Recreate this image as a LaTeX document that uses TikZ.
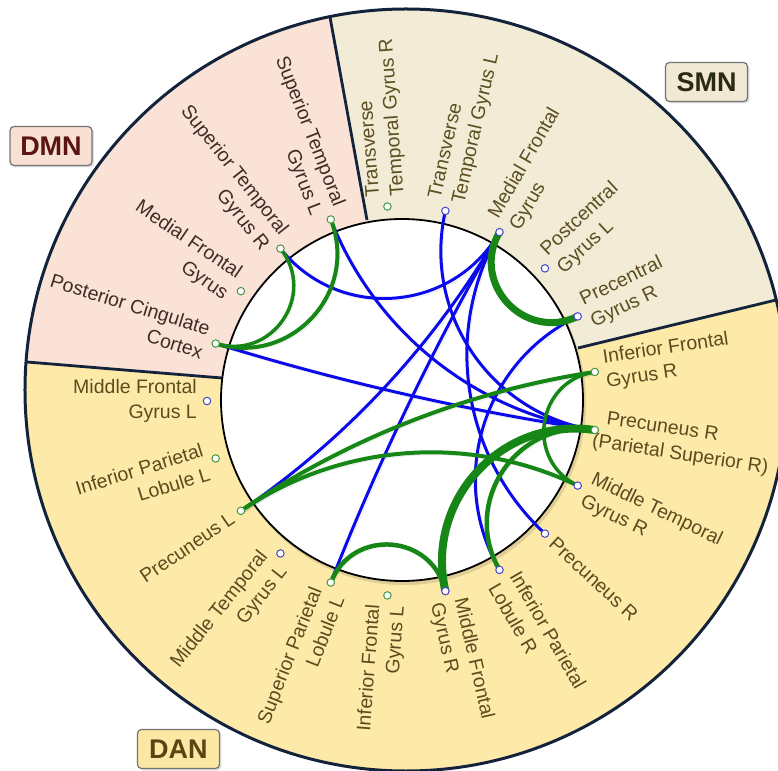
\documentclass[tikz,border=0pt]{standalone}
\usepackage{fontspec}
\setmainfont{Liberation Sans}
\usetikzlibrary{shadows}
\pgfdeclarelayer{ringlayer}
\pgfdeclarelayer{linklayer}
\pgfsetlayers{ringlayer,linklayer,main}
\definecolor{dmnfill}{RGB}{251,226,214}
\definecolor{smnfill}{RGB}{242,235,214}
\definecolor{danfill}{RGB}{253,234,169}
\definecolor{ringline}{RGB}{20,35,60}
\definecolor{dmntext}{RGB}{64,44,38}
\definecolor{smntext}{RGB}{92,78,32}
\definecolor{dantext}{RGB}{92,75,30}
\definecolor{linkblue}{RGB}{10,10,235}
\definecolor{linkgreen}{RGB}{22,135,22}
\definecolor{mkgreen}{RGB}{70,150,70}
\definecolor{mkblue}{RGB}{70,70,200}
\definecolor{dmnleg}{RGB}{248,224,213}
\definecolor{smnleg}{RGB}{241,233,212}
\definecolor{danleg}{RGB}{252,232,165}
\definecolor{dmnlegtext}{RGB}{92,20,16}
\definecolor{smnlegtext}{RGB}{42,42,18}
\definecolor{danlegtext}{RGB}{90,68,18}
\begin{document}
\begin{tikzpicture}[x=1pt,y=1pt,
  lab/.style={font=\fontsize{19.5}{24.5}\selectfont, inner sep=0pt, text=dantext},
  rlab/.style={lab, anchor=west, align=left},
  llab/.style={lab, anchor=east, align=right},
  mk/.style={circle, line width=1pt, fill=white, inner sep=0pt, minimum size=7.5pt},
  mkg/.style={mk, draw=mkgreen},
  mkb/.style={mk, draw=mkblue},
  lshadow/.style={preaction={draw=black, opacity=0.13, transform canvas={shift={(2pt,-2.5pt)}}}},
  bl/.style={draw=linkblue, line width=3pt, line cap=round, lshadow},
  gl/.style={draw=linkgreen, line cap=round, lshadow},
  legend/.style={draw=black!55, line width=1.2pt, rounded corners=4pt,
    minimum width=82pt, minimum height=39pt, inner sep=0pt,
    font=\fontsize{27}{30}\selectfont\bfseries,
    drop shadow={shadow xshift=2pt, shadow yshift=-2pt, opacity=0.25}}
]
\useasboundingbox (-402,-369) rectangle (376,401);

\begin{pgfonlayer}{ringlayer}
\clip (-402,-369) rectangle (376,401);
\fill[danfill] (4,11) circle[radius=381];
\begin{scope}
\clip (4,11) circle[radius=381];
\fill[dmnfill] (0,0) -- (-180,23) -- (-520,51) -- (-520,520) -- (-97,520) -- (-35,181) -- cycle;
\fill[smnfill] (0,0) -- (-35,181) -- (-97,520) -- (520,520) -- (520,136) -- (176,53) -- cycle;
\end{scope}
\draw[ringline, line width=2.8pt] (-35,181) -- (-72,384);
\draw[ringline, line width=2.8pt] (176,53) -- (374,101);
\draw[ringline, line width=2.8pt] (-180,23) -- (-375,39);
\draw[ringline, line width=3pt] (4,11) circle[radius=381];
\fill[black, opacity=0.12] (2,-2) circle[radius=182];
\draw[black, line width=1.8pt, fill=white] (0,1) circle[radius=181];
\end{pgfonlayer}

% markers
\node[mkb] (n0) at (180:195) {};
\node[mkg] (n1) at (162.857:195) {};
\node[mkg] (n2) at (145.714:195) {};
\node[mkg] (n3) at (128.571:195) {};
\node[mkg] (n4) at (111.429:195) {};
\node[mkg] (n5) at (94.286:195) {};
\node[mkb] (n6) at (77.143:195) {};
\node[mkb] (n7) at (60:195) {};
\node[mkb] (n8) at (42.857:195) {};
\node[mkb] (n9) at (25.714:195) {};
\node[mkg] (n10) at (8.571:195) {};
\node[mkg] (n11) at (-8.571:195) {};
\node[mkb] (n12) at (-25.714:195) {};
\node[mkb] (n13) at (-42.857:195) {};
\node[mkb] (n14) at (-60:195) {};
\node[mkb] (n15) at (-77.143:195) {};
\node[mkg] (n16) at (-94.286:195) {};
\node[mkg] (n17) at (-111.429:195) {};
\node[mkb] (n18) at (-128.571:195) {};
\node[mkg] (n19) at (-145.714:195) {};
\node[mkg] (n20) at (-162.857:195) {};

% labels
\node[llab, rotate=0] (l0) at (180:205) {Middle Frontal\\Gyrus L};
\node[llab, rotate=342.857, text=dmntext] (l1) at (162.857:205) {Posterior Cingulate\\Cortex};
\node[llab, rotate=325.714, text=dmntext] (l2) at (145.714:205) {Medial Frontal\\Gyrus};
\node[llab, rotate=308.571, text=dmntext] (l3) at (128.571:205) {Superior Temporal\\Gyrus R};
\node[llab, rotate=291.429, text=dmntext] (l4) at (111.429:205) {Superior Temporal\\Gyrus L};
\node[rlab, rotate=94.286, text=smntext] (l5) at (94.286:205) {Transverse\\Temporal Gyrus R};
\node[rlab, rotate=77.143, text=smntext] (l6) at (77.143:205) {Transverse\\Temporal Gyrus L};
\node[rlab, rotate=60, text=smntext] (l7) at (60:205) {Medial Frontal\\Gyrus};
\node[rlab, rotate=42.857, text=smntext] (l8) at (42.857:205) {Postcentral\\Gyrus L};
\node[rlab, rotate=25.714, text=smntext] (l9) at (25.714:205) {Precentral\\Gyrus R};
\node[rlab, rotate=8.571] (l10) at (8.571:205) {Inferior Frontal\\Gyrus R};
\node[rlab, rotate=-8.571] (l11) at (-8.571:205) {Precuneus R\\\hspace*{-11pt}(Parietal Superior R)};
\node[rlab, rotate=-25.714] (l12) at (-25.714:205) {Middle Temporal\\Gyrus R};
\node[rlab, rotate=-42.857] (l13) at (-42.857:205) {Precuneus R};
\node[rlab, rotate=-60] (l14) at (-60:205) {Inferior Parietal\\Lobule R};
\node[rlab, rotate=-77.143] (l15) at (-77.143:205) {Middle Frontal\\Gyrus R};
\node[llab, rotate=85.714] (l16) at (-94.286:205) {Inferior Frontal\\Gyrus L};
\node[llab, rotate=68.571] (l17) at (-111.429:205) {Superior Parietal\\Lobule L};
\node[llab, rotate=51.429] (l18) at (-128.571:205) {Middle Temporal\\Gyrus L};
\node[llab, rotate=34.286] (l19) at (-145.714:205) {Precuneus L};
\node[llab, rotate=17.143] (l20) at (-162.857:205) {Inferior Parietal\\Lobule L};

% legend boxes
\node[legend, fill=dmnleg, text=dmnlegtext] (dmn) at (-351,255) {DMN};
\node[legend, fill=smnleg, text=smnlegtext] (smn) at (304.5,319) {SMN};
\node[legend, fill=danleg, text=danlegtext] (dan) at (-223.5,-348) {DAN};

% links
\begin{pgfonlayer}{linklayer}
\draw[bl] (n3.center) to[out=308.571,in=240,looseness=1.090] (n7.center);
\draw[bl] (n4.center) to[out=291.429,in=171.429,looseness=0.912] (n11.center);
\draw[bl] (n1.center) to[out=342.857,in=171.429,looseness=0.853] (n11.center);
\draw[bl] (n7.center) to[out=240,in=34.286,looseness=0.863] (n19.center);
\draw[bl] (n7.center) to[out=240,in=68.571,looseness=0.853] (n17.center);
\draw[bl] (n6.center) to[out=257.143,in=171.429,looseness=1.013] (n11.center);
\draw[bl] (n7.center) to[out=240,in=137.143,looseness=0.956] (n13.center);
\draw[bl] (n9.center) to[out=205.714,in=120,looseness=1.013] (n14.center);

\draw[gl, line width=3.5pt] (n1.center) to[out=342.857,in=308.571,looseness=1.315] (n3.center);
\draw[gl, line width=4pt] (n1.center) to[out=342.857,in=291.429,looseness=1.188] (n4.center);
\draw[gl, line width=7pt] (n7.center) to[out=240,in=205.714,looseness=1.315] (n9.center);
\draw[gl, line width=4pt] (n10.center) to[out=188.571,in=34.286,looseness=0.863] (n19.center);
\draw[gl, line width=4pt] (n12.center) to[out=154.286,in=34.286,looseness=0.912] (n19.center);
\draw[gl, line width=3.5pt] (n10.center) to[out=188.571,in=154.286,looseness=1.315] (n12.center);
\draw[gl, line width=8pt] (n11.center) to[out=171.429,in=102.857,looseness=1.090] (n15.center);
\draw[gl, line width=4.5pt] (n11.center) to[out=171.429,in=120,looseness=1.188] (n14.center);
\draw[gl, line width=4.5pt] (n17.center) to[out=68.571,in=102.857,looseness=1.315] (n15.center);
\end{pgfonlayer}
\end{tikzpicture}
\end{document}
